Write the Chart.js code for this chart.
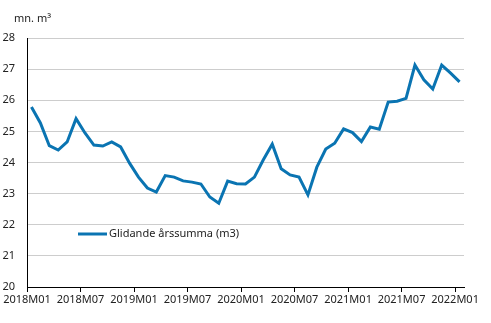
<!DOCTYPE html>
<html lang="fi">
<head>
<meta charset="UTF-8">
<title>Glidande årssumma</title>
<script src="https://cdn.jsdelivr.net/npm/chart.js"></script>
<style>
    html, body { margin: 0; padding: 0; background: #fff; }
    #wrap { width: 491px; height: 323px; position: relative; }
</style>
</head>
<body>
<div id="wrap"><canvas id="chart"></canvas></div>
<script>
    // monthly values 2018M01 .. 2022M01 (mn. m3)
    const seriesLabel = 'Glidande årssumma (m3)';
    const values = [
        25.78, 25.27, 24.54, 24.40, 24.66, 25.41, 24.95, 24.56, 24.53, 24.66, 24.50, 23.98,
        23.53, 23.18, 23.05, 23.58, 23.53, 23.41, 23.37, 23.31, 22.89, 22.69, 23.40, 23.32,
        23.31, 23.53, 24.09, 24.59, 23.80, 23.60, 23.53, 22.96, 23.85, 24.43, 24.62, 25.08,
        24.96, 24.67, 25.14, 25.07, 25.94, 25.97, 26.06, 27.13, 26.66, 26.36, 27.13, 26.87,
        26.59
    ];
    const tickLabels = ['2018M01', '2018M07', '2019M01', '2019M07', '2020M01',
        '2020M07', '2021M01', '2021M07', '2022M01'];
    const unitLabel = 'mn. m³';

    const FONT = '"Noto Sans", "Open Sans", sans-serif';
    const BLUE = '#0a74b2';

    const extras = {
        id: 'extras',
        afterDraw(chart) {
            const ctx = chart.ctx;
            ctx.save();
            ctx.font = '11px ' + FONT;
            ctx.fillStyle = '#222';
            ctx.textBaseline = 'alphabetic';
            ctx.fillText(unitLabel, 14, 22);
            // legend inside the plot
            ctx.strokeStyle = BLUE;
            ctx.lineWidth = 3;
            ctx.beginPath();
            ctx.moveTo(78, 234);
            ctx.lineTo(107, 234);
            ctx.stroke();
            ctx.textBaseline = 'middle';
            ctx.fillText(chart.data.datasets[0].label, 109, 234);
            ctx.restore();
        }
    };

    new Chart(document.getElementById('chart'), {
        type: 'line',
        data: {
            datasets: [{
                label: seriesLabel,
                data: values.map((v, i) => ({ x: i, y: v })),
                borderColor: BLUE,
                backgroundColor: BLUE,
                borderWidth: 3,
                pointRadius: 0,
                tension: 0
            }]
        },
        options: {
            responsive: true,
            maintainAspectRatio: false,
            animation: false,
            layout: { padding: { top: 38, right: 27, left: 0, bottom: 0 } },
            plugins: {
                legend: { display: false },
                tooltip: { enabled: false }
            },
            scales: {
                x: {
                    type: 'linear',
                    min: -0.5,
                    max: 48.5,
                    afterBuildTicks: s => {
                        s.ticks = tickLabels.map((_, k) => ({ value: -0.5 + 6 * k }));
                    },
                    afterFit: s => { s.height = 36; },
                    grid: { drawOnChartArea: false, tickLength: 5, tickColor: '#000' },
                    border: { color: '#000', width: 1 },
                    ticks: {
                        autoSkip: false,
                        maxRotation: 0,
                        padding: 1,
                        color: '#222',
                        font: { family: FONT, size: 11 },
                        callback: v => tickLabels[Math.round((v + 0.5) / 6)]
                    }
                },
                y: {
                    min: 20,
                    max: 28,
                    afterFit: s => { s.width = 27; },
                    grid: { color: '#cdcdcd', drawTicks: false },
                    border: { color: '#000', width: 1 },
                    ticks: {
                        stepSize: 1,
                        padding: 12,
                        color: '#222',
                        font: { family: FONT, size: 11 }
                    }
                }
            }
        },
        plugins: [extras]
    });
</script>
</body>
</html>
